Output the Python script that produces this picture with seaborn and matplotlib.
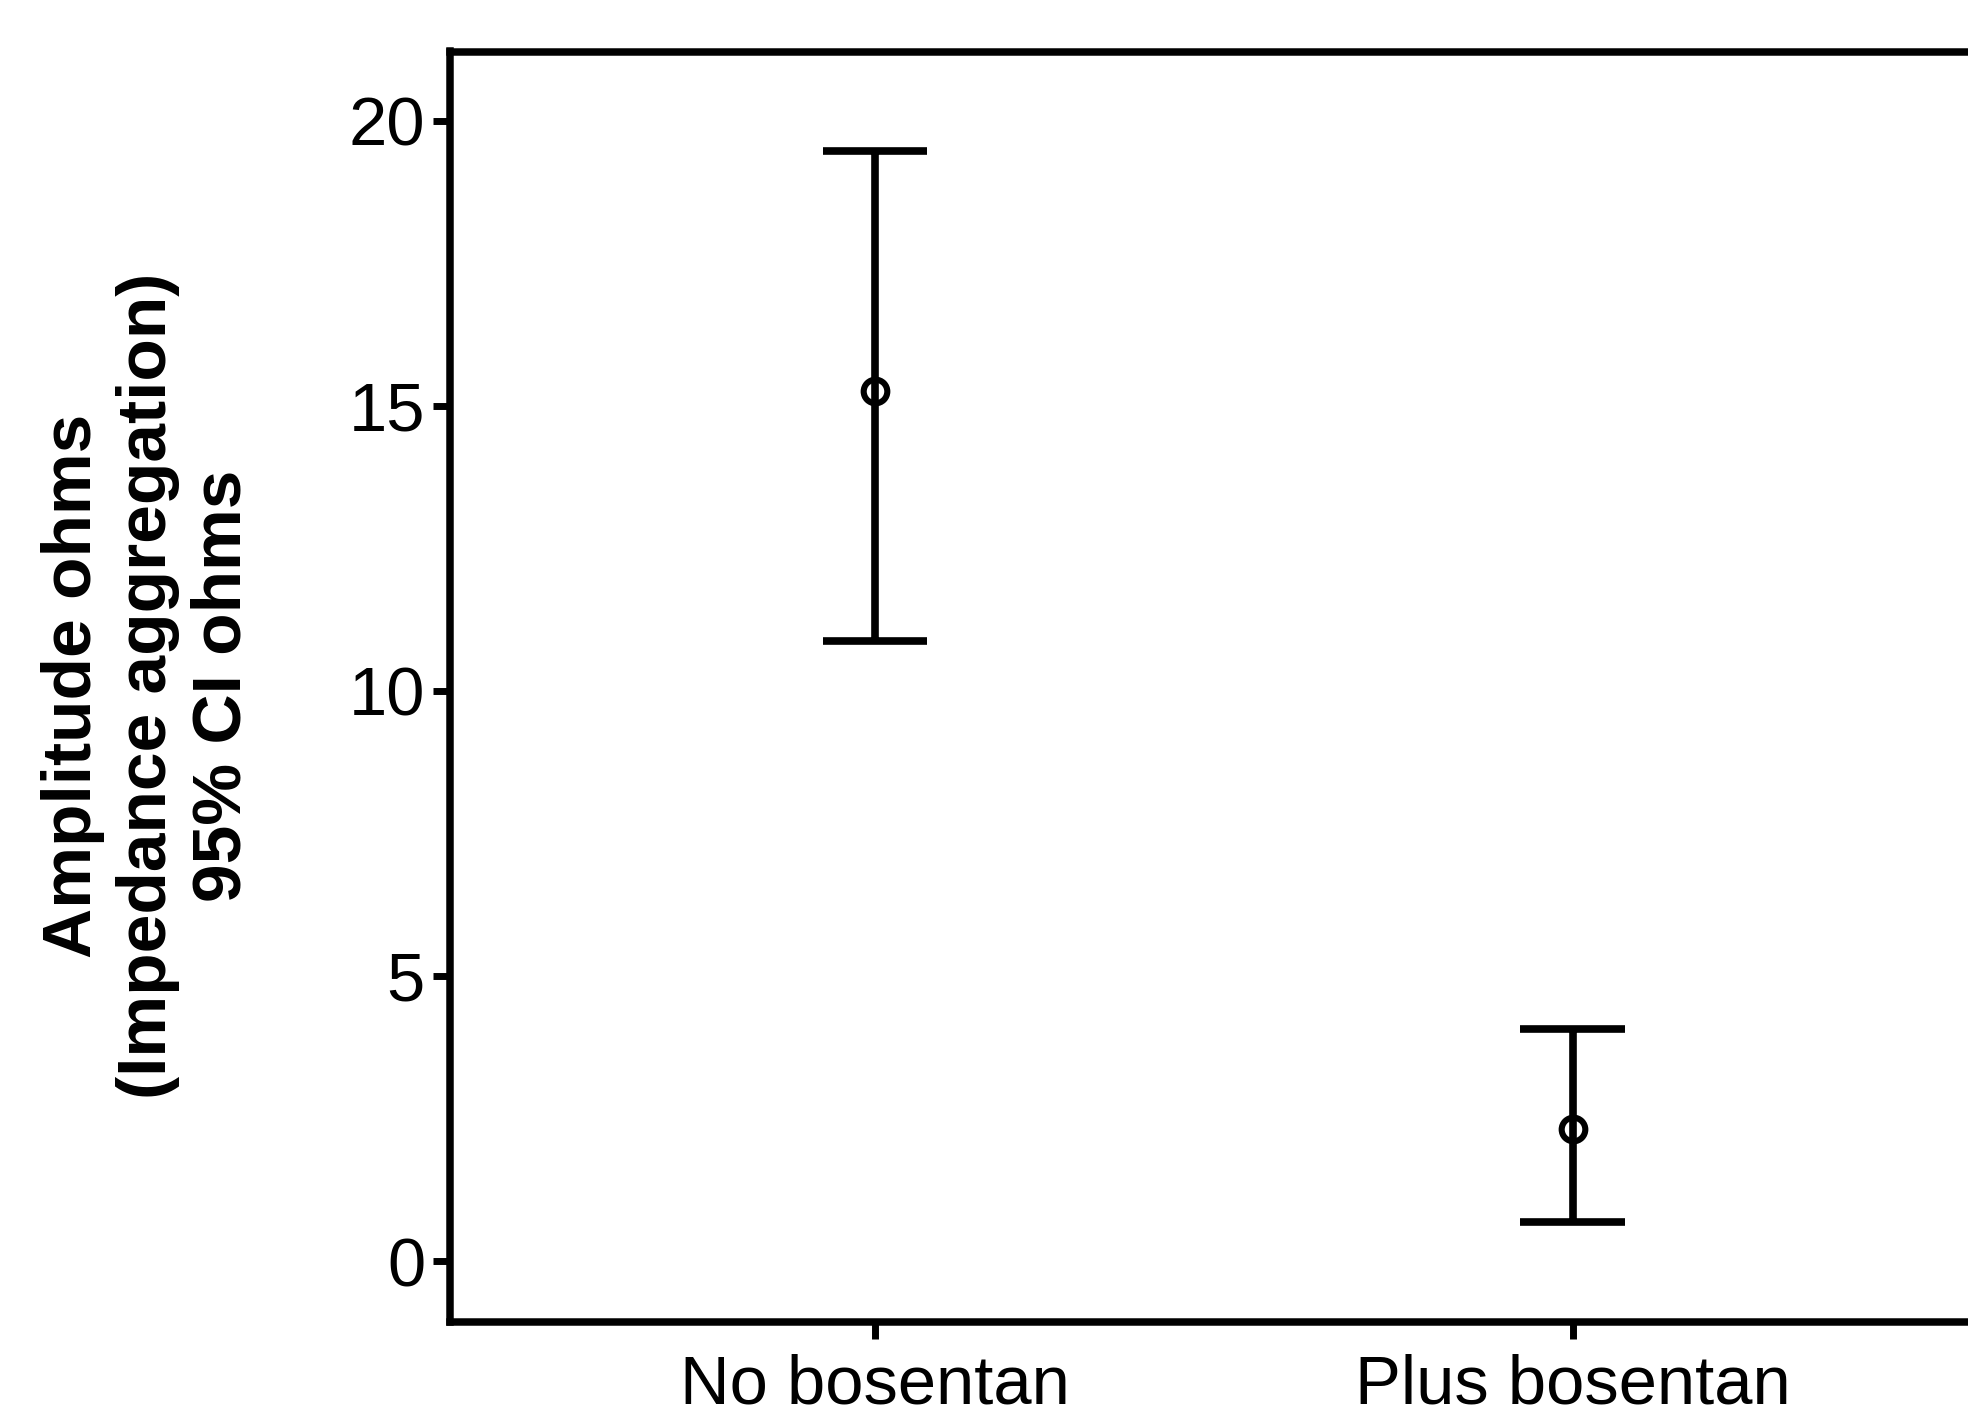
import numpy as np
import pandas as pd
import matplotlib
matplotlib.use("Agg")
import matplotlib.pyplot as plt
import seaborn as sns

# Data: mean and 95% CI per group
groups = ["No bosentan", "Plus bosentan"]
means = [15.25, 2.32]
ci_low = [10.87, 0.68]
ci_high = [19.47, 4.07]

# Long table: lower, mean, upper per group (median = mean, min/max = CI)
rows = []
for g, lo, m, hi in zip(groups, ci_low, means, ci_high):
    for v in (lo, m, hi):
        rows.append({"group": g, "value": v})
df = pd.DataFrame(rows)

sns.set_theme(style="ticks")
plt.rcParams["font.family"] = ["Liberation Sans", "DejaVu Sans"]
plt.rcParams["text.color"] = "black"

fig = plt.figure(figsize=(19.68, 14.18), dpi=100)
ax = fig.add_axes([450 / 1968, 96.5 / 1418, (1997.5 - 450) / 1968, (1321.5 - 51.5) / 1418])

sns.pointplot(
    data=df, x="group", y="value", order=groups,
    estimator=np.median,
    errorbar=lambda v: (v.min(), v.max()),
    capsize=0.15, color="black", linestyle="none",
    marker="o", markersize=17, markeredgewidth=4.4, markerfacecolor="none",
    err_kws={"linewidth": 5.5, "solid_capstyle": "butt"},
    ax=ax,
)

ax.set_xlim(-0.609, 1.609)
ax.set_ylim(-1.06, 21.21)
ax.set_yticks([0, 5, 10, 15, 20])
ax.set_xlabel("")
ax.set_ylabel("")

for s in ax.spines.values():
    s.set_linewidth(5.4)
    s.set_color("black")

ax.tick_params(axis="both", which="major", length=12, width=5, color="black",
               labelsize=49.5, labelcolor="black")
ax.tick_params(axis="y", pad=6)
ax.tick_params(axis="x", pad=11)

fig.text(148 / 1968, 0.516,
         "Amplitude ohms\n(Impedance aggregation)\n95% CI ohms",
         rotation=90, ha="center", va="center", multialignment="center",
         fontsize=50, fontweight="bold", linespacing=1.22, color="black",
         family=["Liberation Sans", "DejaVu Sans"])

fig.savefig("out.png", dpi=100)
